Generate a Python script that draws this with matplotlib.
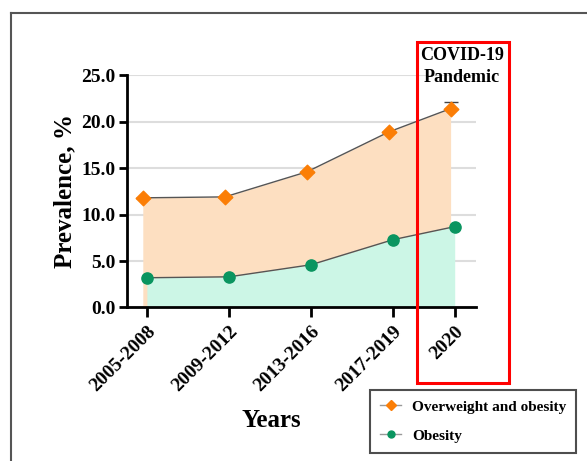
import numpy as np
import matplotlib
matplotlib.use("Agg")
import matplotlib.pyplot as plt
from matplotlib.patches import Rectangle
from matplotlib.lines import Line2D

# data
periods = ["2005-2008", "2009-2012", "2013-2016", "2017-2019", "2020"]
overweight = [11.8, 11.9, 14.6, 18.9, 21.4]
obesity = [3.2, 3.3, 4.6, 7.3, 8.7]
overweight_err_up = [0, 0, 0, 0, 0.7]

xpos = np.array([0, 1, 2, 3, 3.75])
shift = -0.05  # overweight markers sit a bit left of the ticks

plt.rcParams['font.family'] = ['Liberation Serif', 'DejaVu Serif']
plt.rcParams['font.weight'] = 'bold'

fig = plt.figure(figsize=(5.87, 4.61), dpi=100)
ax = fig.add_axes([0.216, 0.333, 0.595, 0.504])

orange = "#FB7E06"
green = "#0A9560"
peach = "#FDDFC1"
mint = "#CCF6E6"

ax.fill_between(xpos + shift, 0, overweight, color=peach, lw=0, zorder=1)
ax.fill_between(xpos, 0, obesity, color=mint, lw=0, zorder=2)

ax.plot(xpos + shift, overweight, color="#555555", lw=1, zorder=3)
ax.plot(xpos, obesity, color="#555555", lw=1, zorder=3)
ax.errorbar(xpos + shift, overweight, yerr=[np.zeros(5), overweight_err_up],
            fmt="none", ecolor="#444444", elinewidth=1, capsize=5, capthick=1, zorder=3)
ax.scatter(xpos + shift, overweight, marker="D", s=55, color=orange, zorder=4)
ax.scatter(xpos, obesity, marker="o", s=65, color=green, zorder=4)

ax.set_xlim(-0.245, 4.01)
ax.set_ylim(0, 25)
ax.set_yticks(np.arange(0, 25.1, 5))
ax.set_yticklabels([f"{v:.1f}" for v in np.arange(0, 25.1, 5)])
ax.set_xticks(xpos)
ax.set_xticklabels(periods, rotation=45, ha="right", rotation_mode="anchor")
ax.tick_params(axis="both", labelsize=14, width=2, length=6)
ax.tick_params(axis="x", pad=4, length=7)
ax.tick_params(axis="y", pad=2)
ax.grid(axis="y", color="#dddddd", lw=1.5, zorder=0)
ax.set_axisbelow(True)
for s in ["top", "right"]:
    ax.spines[s].set_visible(False)
for s in ["left", "bottom"]:
    ax.spines[s].set_linewidth(2)

ax.set_ylabel("Prevalence, %", fontsize=18, fontweight="bold", labelpad=4)
fig.text(271 / 587, 1 - 420 / 461, "Years", ha="center", va="center",
         fontsize=18, fontweight="bold")

# COVID box
fig.patches.append(Rectangle((417 / 587, 1 - 383 / 461), 92 / 587, 341 / 461,
                             transform=fig.transFigure, fill=False,
                             edgecolor="#ff0000", lw=2.2, zorder=10))
fig.text(462 / 587, 1 - 56 / 461, "COVID-19", ha="center", va="center",
         fontsize=13, fontweight="bold")
fig.text(462 / 587, 1 - 78 / 461, "Pandemic", ha="center", va="center",
         fontsize=13, fontweight="bold")

# outer frame
fig.add_artist(Line2D([11 / 587, 1], [1 - 13 / 461, 1 - 13 / 461],
                      transform=fig.transFigure, color="#555555", lw=1.5))
fig.add_artist(Line2D([11 / 587, 11 / 587], [0, 1 - 13 / 461],
                      transform=fig.transFigure, color="#555555", lw=1.5))

handles = [
    Line2D([], [], color="#999999", lw=1, marker="D", markersize=5,
           markerfacecolor=orange, markeredgecolor=orange),
    Line2D([], [], color="#999999", lw=1, marker="o", markersize=5,
           markerfacecolor=green, markeredgecolor=green),
]
leg = fig.legend(handles, ["Overweight and obesity", "Obesity"],
                 loc="upper left", bbox_to_anchor=(370 / 587, 1 - 390 / 461),
                 borderaxespad=0, frameon=True, fancybox=False, edgecolor="#222222",
                 prop={"size": 11, "weight": "bold"}, handlelength=1.4,
                 borderpad=0.65, labelspacing=1.0, handletextpad=0.7)
leg.get_frame().set_linewidth(1.5)

fig.savefig("out.png", dpi=100)
